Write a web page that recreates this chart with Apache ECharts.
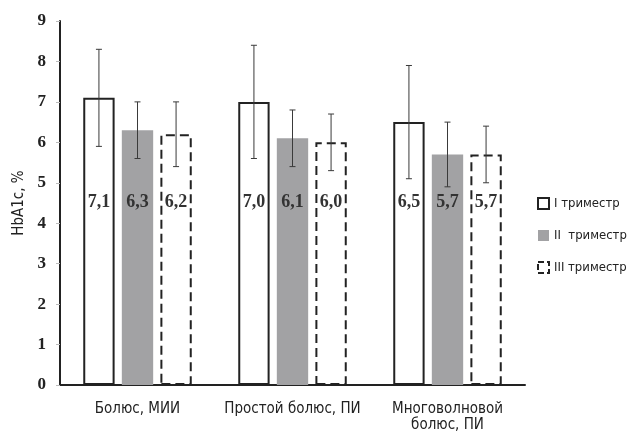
<!DOCTYPE html>
<html>
<head>
<meta charset="utf-8">
<script src="https://cdn.jsdelivr.net/npm/echarts@6/dist/echarts.min.js"></script>
<style>
  html, body { margin: 0; padding: 0; background: #fff; }
  #chart { width: 632px; height: 433px; }
</style>
</head>
<body>
<div id="chart"></div>
<script>
/**
 * data
 */
var categories = ['Болюс, МИИ', 'Простой болюс, ПИ', 'Многоволновой\nболюс, ПИ'];
var seriesNames = ['I триместр', 'II  триместр', 'III триместр'];
var trim1 = [7.1, 7.0, 6.5];
var trim2 = [6.3, 6.1, 5.7];
var trim3 = [6.2, 6.0, 5.7];
// standard deviation (half length of error bar)
var err1 = [1.2, 1.4, 1.4];
var err2 = [0.7, 0.7, 0.8];
var err3 = [0.8, 0.7, 0.7];

var CAT_GAP = 0.30, BAR_GAP = 0.23;
var narrow = "'DejaVu Sans Condensed', 'Roboto', 'Liberation Sans', sans-serif";
var serif = "'Liberation Serif', 'DejaVu Serif', serif";

var chart = echarts.init(document.getElementById('chart'));

function fmt(v) {
    return v.toFixed(1).replace('.', ',');
}

// error bars drawn over each bar of a series
function errorSeries(idx, values, errs) {
    var data = values.map(function(v, k){ return [k, v, errs[k]]; });
    return {
        type: 'custom',
        name: 'err' + idx,
        z: 5,
        silent: true,
        data: data,
        encode: { x: 0, y: 1 },
        renderItem: function(params, api){
            var cat = api.value(0), v = api.value(1), e = api.value(2);
            var band = api.size([1, 0])[0];
            var group = band * (1 - CAT_GAP);
            var w = group / (3 + 2 * BAR_GAP);
            var off = (idx - 1) * w * (1 + BAR_GAP);
            var hi = api.coord([cat, v + e]);
            var lo = api.coord([cat, v - e]);
            var x = hi[0] + off;
            var style = { stroke: '#3a3a3a', lineWidth: 1 };
            return {
                type: 'group',
                children: [
                    { type: 'line', shape: { x1: x, y1: hi[1], x2: x, y2: lo[1] }, style: style },
                    { type: 'line', shape: { x1: x - 3, y1: hi[1], x2: x + 3, y2: hi[1] }, style: style },
                    { type: 'line', shape: { x1: x - 3, y1: lo[1], x2: x + 3, y2: lo[1] }, style: style }
                ]
            };
        }
    };
}

var barLabel = {
    show: true,
    position: 'insideBottom',
    distance: 174,
    fontFamily: serif,
    fontWeight: 'bold',
    fontSize: 18,
    color: '#333',
    formatter: function(p){ return fmt(p.value); }
};

var option = {
    animation: false,
    backgroundColor: '#fff',
    grid: { left: 60, right: 107, top: 21, bottom: 44 },
    legend: {
        orient: 'vertical',
        left: 537,
        top: 197,
        padding: 0,
        itemWidth: 11,
        itemHeight: 11,
        itemGap: 19,
        textStyle: { fontFamily: narrow, fontSize: 13, color: '#222' },
        data: [
            { name: seriesNames[0], icon: 'rect', itemStyle: { color: '#fff', borderColor: '#222', borderWidth: 2 } },
            { name: seriesNames[1], icon: 'rect', itemStyle: { color: '#a2a2a4', borderWidth: 0 } },
            { name: seriesNames[2], icon: 'rect', itemStyle: { color: '#fff', borderColor: '#222', borderWidth: 2, borderType: [6, 3] } }
        ]
    },
    xAxis: {
        type: 'category',
        data: categories,
        axisLine: { lineStyle: { color: '#222', width: 2 } },
        axisTick: { show: false },
        axisLabel: {
            interval: 0,
            margin: 16,
            fontFamily: narrow,
            fontSize: 15,
            color: '#222',
            lineHeight: 16
        }
    },
    yAxis: {
        type: 'value',
        name: 'HbA1c, %',
        nameLocation: 'middle',
        nameGap: 32,
        nameTextStyle: { fontFamily: narrow, fontSize: 15, color: '#222' },
        min: 0,
        max: 9,
        interval: 1,
        axisLine: { show: true, lineStyle: { color: '#222', width: 2 } },
        axisTick: { show: true, length: 4, lineStyle: { color: '#bbb' } },
        splitLine: { show: false },
        axisLabel: {
            margin: 14,
            fontFamily: serif,
            fontWeight: 'bold',
            fontSize: 17,
            color: '#222'
        }
    },
    series: [
        {
            name: seriesNames[0],
            type: 'bar',
            data: trim1,
            barGap: (BAR_GAP * 100) + '%',
            barCategoryGap: (CAT_GAP * 100) + '%',
            itemStyle: { color: '#fff', borderColor: '#222', borderWidth: 2 },
            label: barLabel
        },
        {
            name: seriesNames[1],
            type: 'bar',
            data: trim2,
            itemStyle: { color: '#a2a2a4', borderWidth: 0 },
            label: barLabel
        },
        {
            name: seriesNames[2],
            type: 'bar',
            data: trim3,
            itemStyle: { color: '#fff', borderColor: '#222', borderWidth: 2, borderType: [9, 5] },
            label: barLabel
        },
        errorSeries(0, trim1, err1),
        errorSeries(1, trim2, err2),
        errorSeries(2, trim3, err3)
    ]
};
chart.setOption(option);
</script>
</body>
</html>
